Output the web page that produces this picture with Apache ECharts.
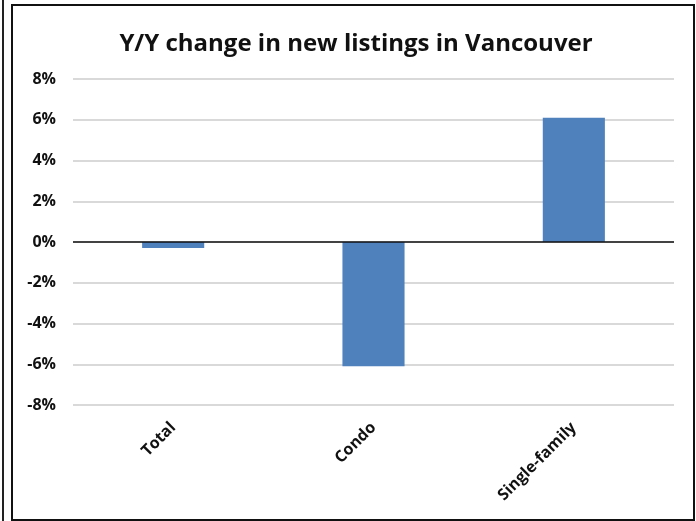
<!DOCTYPE html>
<html>
<head>
<meta charset="utf-8">
<script src="https://cdn.jsdelivr.net/npm/echarts@6/dist/echarts.min.js"></script>
<style>
  html, body { margin: 0; padding: 0; background: #fff; }
  #frame { position: absolute; left: 11px; top: 4px; width: 680px; height: 513px; border: 2px solid #111; }
  #edge { position: absolute; left: 2px; top: 0; width: 2px; height: 521px; background: #222; }
  #chart { position: absolute; left: 0; top: 0; width: 696px; height: 521px; }
</style>
</head>
<body>
<div id="edge"></div>
<div id="frame"></div>
<div id="chart"></div>
<script>
  const categories = ['Total', 'Condo', 'Single-family'];
  const changes = [-0.3, -6.1, 6.1];
  const yTicks = { min: -8, max: 8, step: 2 };

  const chart = echarts.init(document.getElementById('chart'));
  chart.setOption({
    animation: false,
    title: {
      text: 'Y/Y change in new listings in Vancouver',
      left: 351,
      textAlign: 'center',
      top: 27,
      textStyle: { fontFamily: 'Open Sans', fontWeight: 'bold', fontSize: 24, color: '#111' }
    },
    grid: { left: 73, right: 22, top: 79, bottom: 116 },
    xAxis: {
      type: 'category',
      data: categories,
      axisLine: { show: false },
      axisTick: { show: false },
      axisLabel: {
        rotate: 45,
        margin: 20,
        interval: 0,
        fontFamily: 'Open Sans',
        fontWeight: 'bold',
        fontSize: 16,
        color: '#111'
      }
    },
    yAxis: {
      type: 'value',
      min: yTicks.min,
      max: yTicks.max,
      interval: yTicks.step,
      axisLine: { show: false },
      axisTick: { show: false },
      splitLine: { lineStyle: { color: '#d9d9d9', width: 2 } },
      axisLabel: {
        margin: 17,
        formatter: '{value}%',
        fontFamily: 'Open Sans',
        fontWeight: 'bold',
        fontSize: 16,
        color: '#111'
      }
    },
    series: [{
      type: 'bar',
      data: changes,
      barWidth: '31%',
      itemStyle: { color: '#4f81bd' },
      markLine: {
        silent: true,
        symbol: 'none',
        label: { show: false },
        lineStyle: { color: '#111', width: 1.5, type: 'solid' },
        data: [{ yAxis: 0 }]
      }
    }]
  });
</script>
</body>
</html>
